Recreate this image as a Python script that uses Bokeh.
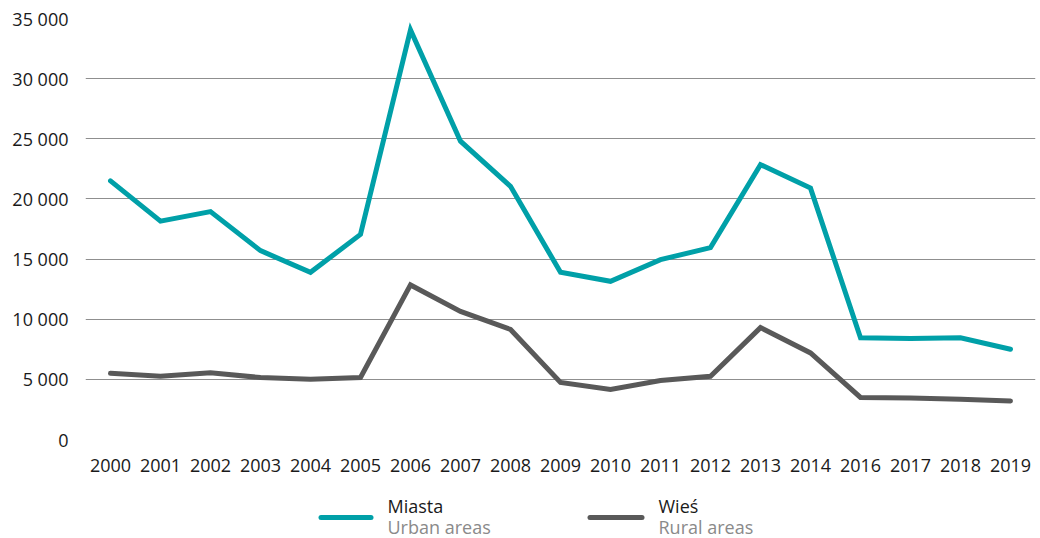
from bokeh.plotting import figure
from bokeh.layouts import column
from bokeh.models import FactorRange, Range1d, FixedTicker
from bokeh.core.properties import value
from bokeh.embed import file_html
from bokeh.resources import INLINE

years = ["2000", "2001", "2002", "2003", "2004", "2005", "2006", "2007", "2008", "2009",
         "2010", "2011", "2012", "2013", "2014", "2016", "2017", "2018", "2019"]
urban = [21500, 18150, 18950, 15700, 13900, 17050, 34050, 24800, 21050, 13900,
         13150, 14950, 15950, 22850, 20900, 8450, 8400, 8450, 7500]
rural = [5500, 5250, 5550, 5150, 5000, 5150, 12850, 10650, 9150, 4750,
         4150, 4900, 5250, 9300, 7200, 3500, 3450, 3350, 3200]
y_ticks = [0, 5000, 10000, 15000, 20000, 25000, 30000, 35000]
y_tick_labels = ["0", "5 000", "10 000", "15 000", "20 000", "25 000", "30 000", "35 000"]
series_pl = ["Miasta", "Wieś"]
series_en = ["Urban areas", "Rural areas"]

TEAL = "#00A0A8"
GRAY = "#595959"
FONT = "Open Sans"
W = 1038
LEFT, RIGHT = 85, 3

p = figure(width=W, height=482, x_range=FactorRange(*years), y_range=Range1d(0, 35000),
           output_backend="svg", toolbar_location=None,
           min_border_left=LEFT, min_border_right=RIGHT, min_border_top=18, min_border_bottom=43)
p.outline_line_color = None

p.line(years, urban, line_color=TEAL, line_width=5, line_join="miter", line_cap="round")
p.line(years, rural, line_color=GRAY, line_width=5, line_join="miter", line_cap="round")

p.xgrid.grid_line_color = None
p.ygrid.grid_line_color = "#8f8f8f"
p.ygrid.grid_line_width = 1
p.yaxis.ticker = FixedTicker(ticks=y_ticks)
p.yaxis.major_label_overrides = {t: l for t, l in zip(y_ticks, y_tick_labels)}

for ax in (p.xaxis[0], p.yaxis[0]):
    ax.axis_line_color = None
    ax.major_tick_line_color = None
    ax.minor_tick_line_color = None
    ax.major_tick_out = 0
    ax.major_tick_in = 0
    ax.major_label_text_font = FONT
    ax.major_label_text_font_size = "18px"
    ax.major_label_text_color = "#1a1a1a"
p.yaxis.major_label_standoff = 17
p.xaxis.major_label_standoff = 19

# legend strip: its frame spans the same screen columns as the chart, ranges in pixels
H2 = 56
lg = figure(width=W, height=H2, x_range=Range1d(LEFT, W - RIGHT), y_range=Range1d(0, H2),
            output_backend="svg", toolbar_location=None,
            min_border_left=LEFT, min_border_right=RIGHT, min_border_top=0, min_border_bottom=0)
lg.axis.visible = False
lg.grid.visible = False
lg.outline_line_color = None

swatch_x0 = [320.5, 589.5]
swatch_x1 = [370.5, 641.5]
text_x = [387, 658]
lg.segment(x0=swatch_x0, y0=[21, 21], x1=swatch_x1, y1=[21, 21],
           line_color=[TEAL, GRAY], line_width=5, line_cap="round")
lg.text(x=text_x, y=[33, 33], text=series_pl, text_font=value(FONT),
        text_font_size="18px", text_color="#1a1a1a", text_baseline="middle")
lg.text(x=text_x, y=[12, 12], text=series_en, text_font=value(FONT),
        text_font_size="18px", text_color="#8a8a8a", text_baseline="middle")

layout = column(p, lg, spacing=0)
open("out.html", "w").write(file_html(layout, INLINE))
